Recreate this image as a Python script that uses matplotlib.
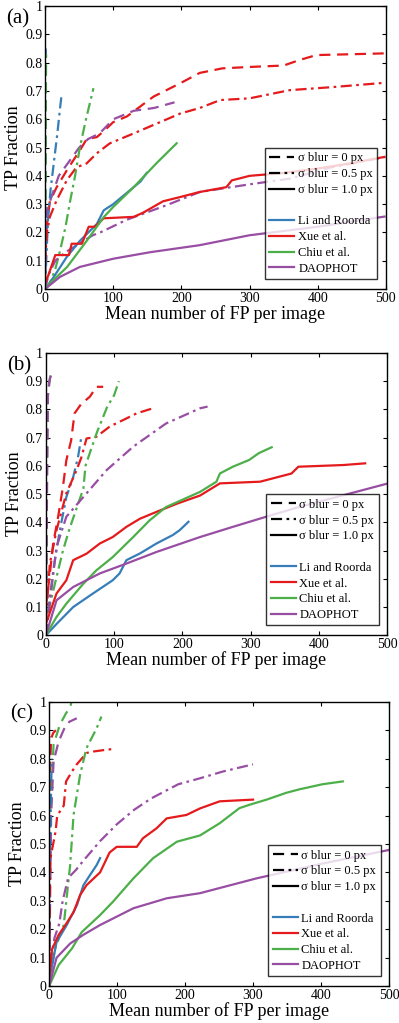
import matplotlib
matplotlib.use("Agg")
import matplotlib.pyplot as plt
from matplotlib.lines import Line2D

plt.rcParams['font.family'] = ['Liberation Serif', 'DejaVu Serif']

methods = ["Li and Roorda", "Xue et al.", "Chiu et al.", "DAOPHOT"]
colors = ["#377eb8", "#e41a1c", "#4daf4a", "#984ea3"]
blur_labels = ["σ blur = 0 px", "σ blur = 0.5 px", "σ blur = 1.0 px"]
xticks = [0, 100, 200, 300, 400, 500]
yticks = [0, 0.1, 0.2, 0.3, 0.4, 0.5, 0.6, 0.7, 0.8, 0.9, 1.0]
ytick_labels = ["0", "0.1", "0.2", "0.3", "0.4", "0.5", "0.6", "0.7", "0.8", "0.9", "1"]

# ---- panel (a) ----
a_li_0 = ([0, 0.3, 0.6, 1.0], [0, 0.3, 0.6, 0.85])
a_xue_0 = ([0, 1, 2.4, 7, 17, 32, 51, 61, 76, 87, 100, 120, 159, 198, 227, 260, 300, 350, 374, 398, 450, 498],
           [0.02, 0.14, 0.22, 0.31, 0.36, 0.42, 0.49, 0.53, 0.537, 0.56, 0.59, 0.61, 0.68, 0.727, 0.764, 0.78, 0.785, 0.79, 0.81, 0.827, 0.83, 0.833])
a_chiu_0 = ([0, 0.6, 1.0, 1.5], [0, 0.3, 0.6, 0.83])
a_dao_0 = ([0, 1, 3, 10, 20, 35, 50, 63, 80, 100, 130, 160, 190],
           [0, 0.2, 0.28, 0.33, 0.4, 0.45, 0.5, 0.53, 0.55, 0.6, 0.63, 0.64, 0.66])
a_li_05 = ([0, 2, 4.4, 8, 12, 18, 22, 24.4], [0, 0.12, 0.25, 0.35, 0.43, 0.55, 0.64, 0.69])
a_xue_05 = ([0, 2.4, 7, 17, 32, 46, 61, 76, 95, 130, 164, 198, 227, 257, 300, 359, 423, 498],
            [0.09, 0.196, 0.255, 0.314, 0.385, 0.43, 0.444, 0.48, 0.515, 0.55, 0.585, 0.62, 0.64, 0.668, 0.674, 0.703, 0.714, 0.729])
a_chiu_05 = ([0, 7, 15, 22, 30, 37, 44, 51, 60, 66, 71], [0, 0.02, 0.07, 0.136, 0.22, 0.314, 0.4, 0.5, 0.6, 0.66, 0.71])
a_dao_05 = ([0, 5, 15, 30, 50, 70, 81, 120, 178, 227, 300, 359, 420, 498],
            [0, 0.05, 0.1, 0.13, 0.16, 0.19, 0.2, 0.245, 0.296, 0.343, 0.37, 0.39, 0.43, 0.466])
a_li_10 = ([0, 12, 32, 51, 76, 86, 100, 125, 140, 149], [0, 0.04, 0.114, 0.17, 0.23, 0.278, 0.3, 0.35, 0.38, 0.41])
a_xue_10 = ([0, 5, 15, 35, 39, 54, 64, 73, 86, 130, 144, 173, 198, 227, 266, 274, 300, 349, 398, 450, 498],
            [0.02, 0.05, 0.12, 0.12, 0.16, 0.16, 0.22, 0.22, 0.25, 0.255, 0.27, 0.31, 0.325, 0.343, 0.36, 0.384, 0.4, 0.41, 0.425, 0.445, 0.467])
a_chiu_10 = ([0, 7, 32, 61, 86, 100, 130, 164, 193], [0, 0.02, 0.077, 0.17, 0.254, 0.29, 0.36, 0.446, 0.515])
a_dao_10 = ([0, 22, 51, 100, 154, 227, 300, 400, 498], [0, 0.043, 0.078, 0.107, 0.13, 0.155, 0.19, 0.22, 0.256])

# ---- panel (b) ----
b_li_0 = ([0, 0.5, 1, 2], [0, 0.4, 0.7, 0.87])
b_xue_0 = ([0, 5, 10.7, 18, 25, 30, 37, 42, 52, 64.5, 74, 84],
           [0.1, 0.2, 0.325, 0.42, 0.526, 0.62, 0.69, 0.786, 0.82, 0.845, 0.88, 0.88])
b_chiu_0 = ([0, 1, 2, 3, 6, 9], [0, 0.4, 0.7, 0.85, 0.91, 0.93])
b_dao_0 = ([0, 1, 2, 3, 5, 8, 9], [0, 0.3, 0.6, 0.85, 0.9, 0.93, 0.94])
b_li_05 = ([0, 5, 12, 20.5, 30, 40, 47, 52], [0, 0.12, 0.25, 0.372, 0.49, 0.56, 0.63, 0.703])
b_xue_05 = ([0, 5.8, 15.6, 30, 45, 52, 59.6, 74, 94, 113, 133, 157],
            [0.05, 0.254, 0.372, 0.503, 0.585, 0.63, 0.697, 0.703, 0.74, 0.762, 0.786, 0.804])
b_chiu_05 = ([0, 5, 15, 25, 35, 45, 55, 58, 65, 75, 90, 100, 107],
             [0, 0.1, 0.2, 0.3, 0.38, 0.45, 0.52, 0.6, 0.65, 0.72, 0.81, 0.85, 0.9])
b_dao_05 = ([0, 5, 15.6, 30, 55, 89, 128, 176, 226, 237],
            [0, 0.1, 0.313, 0.42, 0.49, 0.585, 0.668, 0.75, 0.804, 0.81])
b_li_10 = ([0, 15.6, 40, 69, 98, 108, 118, 138, 162, 186, 196, 209],
           [0, 0.04, 0.1, 0.148, 0.195, 0.219, 0.266, 0.29, 0.325, 0.355, 0.372, 0.402])
b_xue_10 = ([0, 15.6, 30, 40, 59.6, 79, 98, 118, 138, 162, 192, 226, 255, 314, 360, 370, 436, 468],
            [0.04, 0.148, 0.195, 0.266, 0.289, 0.325, 0.348, 0.384, 0.413, 0.437, 0.466, 0.495, 0.538, 0.544, 0.573, 0.597, 0.603, 0.609])
b_chiu_10 = ([0, 15.6, 30, 55, 74, 98, 128, 152, 176, 226, 250, 255, 274, 298, 312, 331],
             [0, 0.065, 0.112, 0.183, 0.23, 0.277, 0.348, 0.407, 0.454, 0.508, 0.544, 0.573, 0.597, 0.621, 0.645, 0.666])
b_dao_10 = ([0, 15.6, 40, 79, 118, 162, 226, 274, 323, 372, 500],
            [0, 0.124, 0.171, 0.219, 0.254, 0.295, 0.348, 0.384, 0.42, 0.455, 0.537])

# ---- panel (c) ----
c_li_0 = ([0, 0.5, 1.5, 2.5], [0, 0.4, 0.75, 0.878])
c_xue_0 = ([0, 0.5, 1, 3, 6, 10], [0, 0.5, 0.78, 0.87, 0.89, 0.9])
c_chiu_0 = ([0, 2, 6.6, 16, 25, 31, 33], [0, 0.6, 0.85, 0.92, 0.96, 0.98, 1.0])
c_dao_0 = ([0, 3, 6.6, 14, 23.5, 30, 40.7], [0, 0.6, 0.79, 0.86, 0.912, 0.93, 0.942])
c_li_05 = ([0, 1, 2, 3, 4], [0, 0.3, 0.55, 0.7, 0.8])
c_xue_05 = ([0, 0.5, 1, 2, 4.4, 9.6, 12, 21.6, 25, 33.7, 40.7, 48, 55, 65, 80, 94],
            [0, 0.2, 0.31, 0.45, 0.48, 0.545, 0.6, 0.635, 0.72, 0.755, 0.78, 0.8, 0.82, 0.825, 0.83, 0.834])
c_chiu_05 = ([0, 8.4, 21.6, 31, 36, 45.6, 55, 70, 77], [0, 0.13, 0.215, 0.426, 0.602, 0.743, 0.837, 0.907, 0.948])
c_dao_05 = ([0, 3, 8, 15, 20, 28, 40, 50, 75, 100, 125, 150, 190, 222, 256, 300],
            [0, 0.1, 0.17, 0.22, 0.3, 0.38, 0.41, 0.44, 0.51, 0.57, 0.62, 0.66, 0.71, 0.731, 0.755, 0.78])
c_li_10 = ([0, 1, 11, 26, 41, 50.5, 60, 70, 75], [0, 0.03, 0.155, 0.215, 0.285, 0.355, 0.39, 0.426, 0.45])
c_xue_10 = ([0, 4.4, 14, 24, 36, 45.6, 55, 75, 89, 99.5, 129, 138, 158, 173, 202, 222, 251, 300],
            [0.027, 0.13, 0.18, 0.215, 0.26, 0.32, 0.355, 0.4, 0.47, 0.49, 0.49, 0.52, 0.555, 0.59, 0.602, 0.625, 0.65, 0.656])
c_chiu_10 = ([0, 14, 33.8, 48, 75, 94, 124, 153, 188, 222, 251, 280, 295, 320, 349, 368, 402, 432],
             [0, 0.074, 0.133, 0.19, 0.25, 0.297, 0.379, 0.45, 0.508, 0.53, 0.573, 0.626, 0.638, 0.656, 0.68, 0.692, 0.71, 0.72])
c_dao_10 = ([0, 11, 31, 50, 75, 124, 173, 222, 305, 400, 500],
            [0, 0.1, 0.15, 0.18, 0.215, 0.274, 0.309, 0.327, 0.379, 0.43, 0.479])

panels = [
    ("(a)", [[a_li_0, a_xue_0, a_chiu_0, a_dao_0],
             [a_li_05, a_xue_05, a_chiu_05, a_dao_05],
             [a_li_10, a_xue_10, a_chiu_10, a_dao_10]]),
    ("(b)", [[b_li_0, b_xue_0, b_chiu_0, b_dao_0],
             [b_li_05, b_xue_05, b_chiu_05, b_dao_05],
             [b_li_10, b_xue_10, b_chiu_10, b_dao_10]]),
    ("(c)", [[c_li_0, c_xue_0, c_chiu_0, c_dao_0],
             [c_li_05, c_xue_05, c_chiu_05, c_dao_05],
             [c_li_10, c_xue_10, c_chiu_10, c_dao_10]]),
]

styles = [(0, (5, 3)), (0, (5, 2, 1.2, 2)), '-']
# axes boxes [left, bottom, width, height] in figure fractions
boxes = [[0.113, 0.7175, 0.854, 0.2765],
         [0.115, 0.379, 0.855, 0.276],
         [0.123, 0.036, 0.852, 0.278]]

fig = plt.figure(figsize=(3.99, 10.23), dpi=100)

for (label, groups), box in zip(panels, boxes):
    ax = fig.add_axes(box)
    for style, group in zip(styles, groups):
        for (xs, ys), c in zip(group, colors):
            ax.plot(xs, ys, color=c, linestyle=style, lw=1.6)
    ax.set_xlim(0, 500)
    ax.set_ylim(0, 1)
    ax.set_xticks(xticks)
    ax.set_yticks(yticks)
    ax.set_yticklabels(ytick_labels)
    ax.tick_params(direction='in', top=True, right=True, labelsize=10, length=3, pad=2)
    ax.set_xlabel("Mean number of FP per image", fontsize=13, labelpad=0)
    ax.set_ylabel("TP Fraction", fontsize=13, labelpad=2)
    for s in ax.spines.values():
        s.set_linewidth(1.0)
    ax.text(-0.115, 0.99, label, transform=ax.transAxes, fontsize=15, ha='left', va='top')

    # legend: line styles in black, a blank row, then the methods
    handles = [Line2D([], [], color='k', linestyle=st, lw=1.6) for st in styles]
    handles.append(Line2D([], [], color='none'))
    handles += [Line2D([], [], color=c, lw=1.6) for c in colors]
    labels = blur_labels + [""] + methods
    leg = ax.legend(handles, labels, loc='lower right', bbox_to_anchor=(0.975, 0.035),
                    fontsize=9, frameon=True, fancybox=False, handlelength=2.0,
                    handletextpad=0.3, borderpad=0.35, labelspacing=0.3, borderaxespad=0)
    leg.get_frame().set_edgecolor('k')
    leg.get_frame().set_linewidth(1.0)

fig.savefig("out.png", dpi=100)
